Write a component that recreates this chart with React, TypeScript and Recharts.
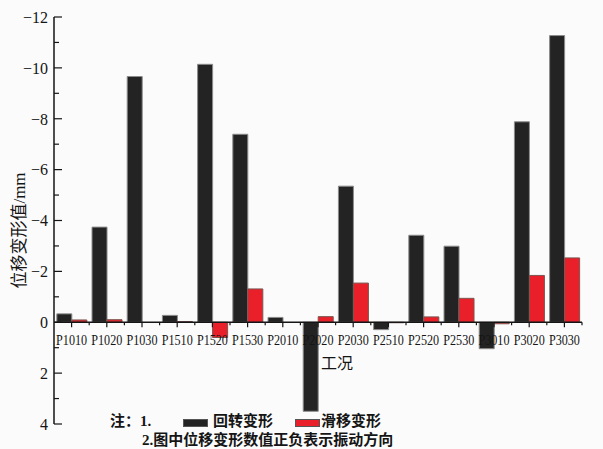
import { BarChart, Bar, XAxis, YAxis, ReferenceLine, Legend } from "recharts";

const CATEGORIES = [
  "P1010", "P1020", "P1030", "P1510", "P1520", "P1530", "P2010", "P2020",
  "P2030", "P2510", "P2520", "P2530", "P3010", "P3020", "P3030",
];
// 回转变形 (mm), negative values point upward on the reversed axis
const ROTATION = [
  -0.33, -3.74, -9.66, -0.27, -10.14, -7.39, -0.19, 3.5,
  -5.35, 0.29, -3.42, -2.99, 1.04, -7.88, -11.27,
];
// 滑移变形 (mm)
const SLIDE = [
  -0.09, -0.1, 0, -0.03, 0.6, -1.31, 0, -0.22,
  -1.54, 0.02, -0.21, -0.94, 0.06, -1.84, -2.53,
];
const Y_TICKS = [-12, -11, -10, -9, -8, -7, -6, -5, -4, -3, -2, -1, 0, 1, 2, 3, 4];
const Y_DOMAIN: [number, number] = [-12, 4];

const W = 603;
const H = 449;
const MARGIN = { top: 17, right: 21, bottom: 0, left: 0 };
const Y_AXIS_W = 54;
const X_AXIS_H = 25;
const PLOT_H = H - MARGIN.top - MARGIN.bottom - X_AXIS_H;
const PLOT_W = W - MARGIN.left - MARGIN.right - Y_AXIS_W;
const BAND = PLOT_W / CATEGORIES.length;
// distance from the bottom of the plot up to the zero line
const ZERO_UP = (PLOT_H * (Y_DOMAIN[1] - 0)) / (Y_DOMAIN[1] - Y_DOMAIN[0]);

const SERIF = '"Liberation Serif", "Times New Roman", "Noto Sans CJK SC", serif';
const INK = "#151515";

const data = CATEGORIES.map((name, i) => ({
  name,
  rotation: ROTATION[i],
  slide: SLIDE[i],
}));

function CategoryTick({ x, y, payload }: any) {
  const zy = y - ZERO_UP;
  return (
    <g>
      <line x1={x} x2={x} y1={zy} y2={zy + 5} stroke={INK} strokeWidth={1.2} />
      <line x1={x + BAND / 2} x2={x + BAND / 2} y1={zy} y2={zy + 3} stroke={INK} strokeWidth={1.2} />
      <text
        x={x}
        y={zy + 23}
        textAnchor="middle"
        fontSize={15}
        fontFamily={SERIF}
        fill={INK}
        textLength={31}
        lengthAdjust="spacingAndGlyphs"
      >
        {payload.value}
      </text>
    </g>
  );
}

function ValueTick({ x, y, payload }: any) {
  const v = payload.value as number;
  const major = v % 2 === 0;
  const ax = x + 6;
  return (
    <g>
      <line x1={ax} x2={ax + (major ? 8 : 5)} y1={y} y2={y} stroke={INK} strokeWidth={1.2} />
      {major && (
        <text x={x} y={y} dy="0.36em" textAnchor="end" fontSize={16} fontFamily={SERIF} fill={INK}>
          {v < 0 ? `\u2212${-v}` : v}
        </text>
      )}
    </g>
  );
}

function NoteLegend({ payload }: any) {
  const swatchX = [183, 295];
  const textX = [213, 321];
  return (
    <div
      style={{
        position: "relative",
        width: W,
        height: H,
        fontFamily: SERIF,
        fontSize: 15,
        lineHeight: "15px",
        fontWeight: "bold",
        color: INK,
        pointerEvents: "none",
      }}
    >
      <span style={{ position: "absolute", left: 110, top: 414 }}>注：1.</span>
      {(payload || []).map((p: any, i: number) => (
        <span key={p.value}>
          <span
            style={{
              position: "absolute",
              left: swatchX[i],
              top: 419,
              width: 23,
              height: 6,
              background: p.color,
              border: "1px solid #555",
            }}
          />
          <span style={{ position: "absolute", left: textX[i], top: 414 }}>{p.value}</span>
        </span>
      ))}
      <span style={{ position: "absolute", left: 142, top: 433 }}>2.图中位移变形数值正负表示振动方向</span>
    </div>
  );
}

export default function App() {
  return (
    <div style={{ position: "absolute", left: 0, top: 0, width: W, height: H, background: "#fbfbfb" }}>
      <BarChart
        width={W}
        height={H}
        data={data}
        margin={MARGIN}
        barCategoryGap="8%"
        barGap={0}
      >
        <XAxis
          dataKey="name"
          height={X_AXIS_H}
          axisLine={false}
          tickLine={false}
          tickSize={0}
          tickMargin={0}
          interval={0}
          tick={<CategoryTick />}
          label={{
            content: ({ viewBox }: any) => (
              <text
                x={viewBox.x + viewBox.width / 2 + 19}
                y={viewBox.y - ZERO_UP + 47}
                textAnchor="middle"
                fontSize={16}
                fontFamily={SERIF}
                fill={INK}
              >
                工况
              </text>
            ),
          }}
        />
        <YAxis
          width={Y_AXIS_W}
          domain={Y_DOMAIN}
          reversed
          ticks={Y_TICKS}
          interval={0}
          tickSize={0}
          tickMargin={6}
          tickLine={false}
          axisLine={{ stroke: INK, strokeWidth: 1.5 }}
          tick={<ValueTick />}
          label={{
            content: ({ viewBox }: any) => {
              const cx = 19;
              const cy = viewBox.y + viewBox.height / 2 + 10;
              return (
                <text
                  x={cx}
                  y={cy}
                  transform={`rotate(-90 ${cx} ${cy})`}
                  textAnchor="middle"
                  dominantBaseline="central"
                  fontSize={17}
                  fontFamily={SERIF}
                  fill={INK}
                >
                  位移变形值/mm
                </text>
              );
            },
          }}
        />
        <ReferenceLine y={0} stroke={INK} strokeWidth={1.5} />
        <Bar
          dataKey="rotation"
          name="回转变形"
          fill="#232323"
          stroke="#8c8c8c"
          strokeWidth={1}
          isAnimationActive={false}
        />
        <Bar
          dataKey="slide"
          name="滑移变形"
          fill="#e9202a"
          stroke="#7a5550"
          strokeWidth={1}
          isAnimationActive={false}
        />
        <Legend
          layout="horizontal"
          verticalAlign="middle"
          align="center"
          wrapperStyle={{ left: 0, top: 0, width: W, height: H }}
          content={<NoteLegend />}
        />
      </BarChart>
    </div>
  );
}
